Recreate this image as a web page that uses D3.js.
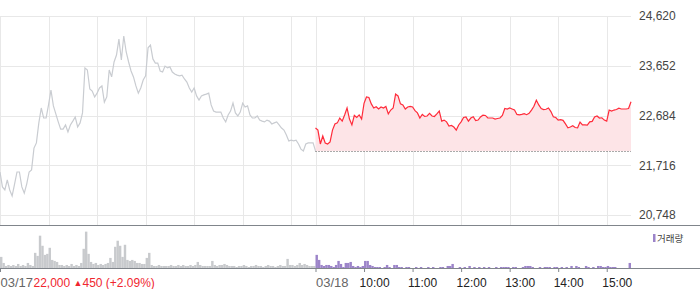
<!DOCTYPE html>
<html lang="ko">
<head>
<meta charset="utf-8">
<script src="https://cdn.jsdelivr.net/npm/d3@7/dist/d3.min.js"></script>
<style>
  html, body { margin: 0; padding: 0; background: #fff; }
  svg { display: block; font-family: "Liberation Sans", Arial, "Noto Sans CJK KR", sans-serif; }
</style>
</head>
<body>
<div id="chart"></div>
<script>
// 2-day intraday chart (03/17 grey, 03/18 red) + volume bars
// prices sampled every 3 minutes, 09:00 -> 15:30

const prices0317 = [
  21585, 21295, 21235, 21430, 21235, 21120, 21350, 21585, 21585, 21295,
  21175, 21350, 21585, 21625, 22050, 22150, 22540, 22830, 22635, 22635,
  22890, 23180, 22870, 22715, 22560, 22420, 22420, 22500, 22365, 22500,
  22575, 22655, 22460, 22540, 22735, 23610, 23570, 23200, 23160, 23045,
  23120, 23220, 23260, 22945, 23045, 23570, 23435, 23725, 23860, 24170,
  23765, 24230, 23920, 23725, 23550, 23435, 23260, 23120, 23220, 23375,
  23455, 24000, 24055, 23785, 23705, 23705, 23550, 23530, 23645, 23610,
  23630, 23530, 23490, 23470, 23455, 23470, 23395, 23335, 23220, 23140,
  23220, 23065, 22985, 23065, 23085, 23100, 23120, 22890, 22770, 22750,
  22750, 22750, 22635, 22560, 22695, 22770, 22925, 22735, 22675, 22750,
  22925, 22850, 22870, 22695, 22635, 22635, 22675, 22595, 22575, 22560,
  22595, 22575, 22520, 22540, 22560, 22500, 22440, 22400, 22305, 22190,
  22205, 22190, 22205, 22130, 22030, 21995, 22130, 22150, 22150, 22150,
  21995
];

const prices0318 = [
  22440, 22400, 22130, 22285, 22150, 22130, 22170, 22400, 22520, 22540,
  22635, 22575, 22695, 22830, 22615, 22500, 22685, 22645, 22695, 22615,
  22920, 23045, 23035, 22910, 22830, 22855, 22810, 22850, 22830, 22860,
  22715, 22790, 22830, 23100, 23065, 22910, 22890, 22810, 22850, 22860,
  22850, 22780, 22735, 22635, 22705, 22665, 22675, 22725, 22675, 22665,
  22715, 22770, 22575, 22595, 22560, 22480, 22490, 22460, 22400, 22500,
  22560, 22645, 22655, 22575, 22635, 22660, 22585, 22595, 22655, 22690,
  22685, 22635, 22635, 22635, 22615, 22625, 22635, 22685, 22820, 22810,
  22830, 22810, 22790, 22705, 22695, 22705, 22720, 22700, 22725, 22790,
  22865, 22980, 22890, 22820, 22800, 22805, 22830, 22760, 22660, 22645,
  22595, 22605, 22590, 22520, 22445, 22460, 22485, 22450, 22445, 22555,
  22500, 22500, 22495, 22560, 22570, 22655, 22675, 22635, 22640, 22595,
  22575, 22790, 22770, 22790, 22800, 22825, 22810, 22810, 22810, 22820,
  22950
];

// volume per 3-minute bin (thousand shares)
const volume0317 = [
  11, 5, 2, 3, 2, 3, 2, 4, 2, 3,
  2, 5, 3, 2, 15, 12, 32, 22, 13, 14,
  20, 8, 7, 6, 3, 3, 2, 3, 2, 4,
  2, 3, 2, 5, 19, 36, 14, 6, 4, 5,
  3, 4, 3, 4, 5, 10, 6, 21, 27, 22,
  11, 23, 8, 7, 8, 7, 5, 5, 4, 4,
  10, 15, 3, 2, 2, 3, 2, 2, 2, 2,
  3, 2, 2, 3, 2, 3, 2, 2, 3, 2,
  3, 6, 3, 2, 2, 2, 2, 7, 3, 2,
  3, 3, 4, 3, 2, 2, 2, 1, 2, 2,
  3, 2, 1, 2, 2, 3, 2, 2, 1, 2,
  3, 2, 2, 1, 2, 3, 2, 2, 9, 3,
  3, 2, 3, 5, 3, 4, 3, 2, 2, 2
];

const volume0318 = [
  13, 8, 3, 2, 3, 3, 2, 1, 3, 7,
  4, 1, 5, 5, 6, 2, 1, 2, 1, 2,
  7, 7, 3, 2, 1, 1, 1, 0, 1, 3,
  1, 0, 3, 3, 1, 1, 0, 1, 1, 0,
  0, 1, 0, 1, 0, 0, 1, 0, 1, 0,
  0, 1, 1, 0, 2, 2, 4, 0, 0, 1,
  0, 1, 0, 2, 0, 1, 0, 1, 0, 1,
  0, 1, 0, 0, 1, 0, 1, 1, 1, 1,
  0, 1, 1, 0, 0, 1, 2, 2, 2, 1,
  0, 0, 1, 0, 1, 1, 1, 0, 1, 1,
  0, 1, 0, 1, 0, 2, 0, 2, 1, 0,
  0, 2, 1, 0, 1, 0, 2, 2, 1, 1,
  2, 1, 1, 1, 0, 0, 0, 0, 0, 5
];

const prevClose = 21995;           // dotted reference line
const yTicks = [24620, 23652, 22684, 21716, 20748];

// trading minutes from 03/17 09:00 (390 minutes per session)
const tickMinutes = [0, 390, 450, 510, 570, 630, 690, 750];
const tickLabels  = ["03/17", "03/18", "10:00", "11:00", "12:00", "13:00", "14:00", "15:00"];
const gridMinutes = [0, 60, 120, 180, 240, 300, 360, 390, 450, 510, 570, 630, 690, 750];

const lastPrice = "22,000";
const change    = "450";
const changePct = "(+2.09%)";
const volumeLabel = "거래량";

const step = 3;        // minutes per sample
const session = 390;

const width = 700;
const height = 289;

const svg = d3
  .select("#chart")
  .append("svg")
  .attr("width", width)
  .attr("height", height);

const x = d3.scaleLinear().domain([0, 2 * session]).range([0, 631]);
const y = d3.scaleLinear().domain([20748, 24620]).range([215, 16]);

const volMax = d3.max(volume0317.concat(volume0318)) * 1.1;
const yVol = d3.scaleLinear().domain([0, volMax]).range([268, 228]);

/* ---------------- grid ---------------- */
svg
  .append("g")
  .selectAll("line")
  .data(yTicks)
  .join("line")
  .attr("x1", x(0))
  .attr("x2", x(2 * session))
  .attr("y1", d => Math.round(y(d)) + 0.5)
  .attr("y2", d => Math.round(y(d)) + 0.5)
  .attr("stroke", "#e8e8e8");

svg
  .append("g")
  .selectAll("line")
  .data(gridMinutes)
  .join("line")
  .attr("x1", d => Math.round(x(d)) + 0.5)
  .attr("x2", d => Math.round(x(d)) + 0.5)
  .attr("y1", y(24620))
  .attr("y2", 225)
  .attr("stroke", "#e8e8e8");

// Y labels (right)
svg
  .append("g")
  .attr("transform", "translate(639,0)")
  .call(
    d3.axisRight(y)
      .tickValues(yTicks)
      .tickSize(0)
      .tickPadding(0)
      .tickFormat(d3.format(","))
  )
  .call(g => g.select(".domain").remove())
  .selectAll("text")
  .style("font-size", "12px")
  .style("font-family", "'Liberation Sans', Arial, sans-serif")
  .attr("fill", "#444");

/* ---------------- price lines ---------------- */
const area0318 = d3
  .area()
  .x((d, i) => x(session + i * step))
  .y0(y(prevClose))
  .y1(d => y(d));

svg
  .append("path")
  .datum(prices0318)
  .attr("d", area0318)
  .attr("fill", "#fde4e7");

svg
  .append("line")
  .attr("x1", x(session))
  .attr("x2", x(2 * session))
  .attr("y1", Math.round(y(prevClose)) + 0.5)
  .attr("y2", Math.round(y(prevClose)) + 0.5)
  .attr("stroke", "#555")
  .attr("stroke-dasharray", "1,2");

svg
  .append("path")
  .datum(prices0317)
  .attr("d", d3.line().x((d, i) => x(i * step)).y(d => y(d)))
  .attr("fill", "none")
  .attr("stroke", "#c9ccd1")
  .attr("stroke-width", 1.2);

svg
  .append("path")
  .datum(prices0318)
  .attr("d", d3.line().x((d, i) => x(session + i * step)).y(d => y(d)))
  .attr("fill", "none")
  .attr("stroke", "#ff2b3a")
  .attr("stroke-width", 1.2);

// separator under the price panel
svg
  .append("line")
  .attr("x1", 0)
  .attr("x2", width)
  .attr("y1", 225.5)
  .attr("y2", 225.5)
  .attr("stroke", "#80858b");

/* ---------------- volume ---------------- */
const barW = x(step) - x(0);

svg
  .append("g")
  .selectAll("rect")
  .data(volume0317)
  .join("rect")
  .attr("x", (d, i) => x(i * step))
  .attr("y", d => yVol(d))
  .attr("width", barW)
  .attr("height", d => yVol(0) - yVol(d))
  .attr("fill", "#c8cacd");

svg
  .append("g")
  .selectAll("rect")
  .data(volume0318)
  .join("rect")
  .attr("x", (d, i) => x(session + i * step))
  .attr("y", d => yVol(d))
  .attr("width", barW)
  .attr("height", d => yVol(0) - yVol(d))
  .attr("fill", "#9c84c9");

// legend
svg
  .append("rect")
  .attr("x", 653)
  .attr("y", 234)
  .attr("width", 2.5)
  .attr("height", 8)
  .attr("fill", "#9c84c9");

svg
  .append("text")
  .attr("x", 657)
  .attr("y", 242)
  .style("font-family", "'Noto Sans CJK KR', sans-serif")
  .style("font-size", "9.5px")
  .attr("fill", "#444")
  .text(volumeLabel);

/* ---------------- time axis ---------------- */
svg
  .append("line")
  .attr("x1", 0)
  .attr("x2", width)
  .attr("y1", 268.5)
  .attr("y2", 268.5)
  .attr("stroke", "#80858b");

const xAxis = svg
  .append("g")
  .attr("transform", "translate(0,268)")
  .call(
    d3.axisBottom(x)
      .tickValues(tickMinutes)
      .tickSize(4)
      .tickPadding(6)
      .tickFormat((d, i) => tickLabels[i])
  )
  .call(g => g.select(".domain").remove());

xAxis.selectAll(".tick line").attr("stroke", "#80858b");

xAxis
  .selectAll(".tick text")
  .attr("text-anchor", "start")
  .attr("dx", d => (d % session === 0 ? 0 : -5))
  .style("font-family", "'Liberation Sans', Arial, sans-serif")
  .style("font-size", d => (d % session === 0 ? "13px" : "12px"))
  .attr("fill", d => (d % session === 0 ? "#666" : "#222"));

// last price / change, right after the first date label
const quote = svg
  .append("text")
  .attr("x", 33.5)
  .attr("y", 286.5)
  .style("font-size", "12px")
  .attr("fill", "#f0262f");

quote.append("tspan").text(lastPrice + " ");
quote.append("tspan").style("font-size", "9px").attr("dy", -0.5).text("▲");
quote.append("tspan").attr("dy", 0.5).text(change + " " + changePct);
</script>
</body>
</html>
